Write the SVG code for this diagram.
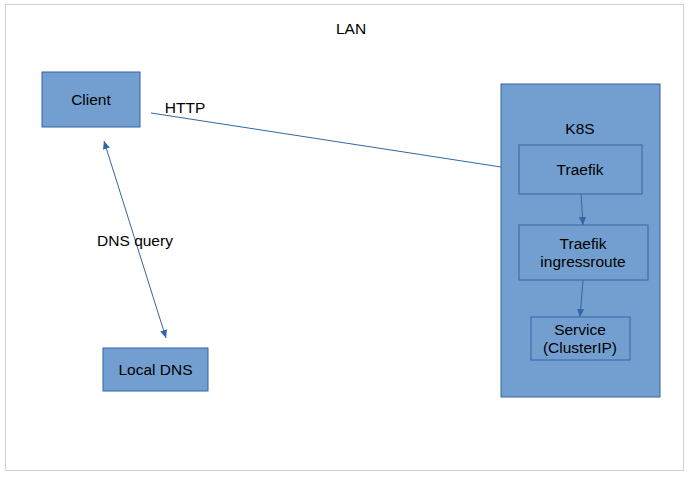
<svg xmlns="http://www.w3.org/2000/svg" width="690" height="477" viewBox="0 0 690 477">
<defs>
<style>
.n{fill:#729fcf;stroke:#3465a4;stroke-width:1}
.i{fill:none;stroke:#3465a4;stroke-width:1}
.t{font-family:"Liberation Sans",Arial,sans-serif;font-size:15.5px;fill:#000;text-anchor:middle}
.c{fill:none;stroke:#3465a4;stroke-width:1}
</style>
<marker id="a" viewBox="0 0 10 10" refX="10" refY="5" markerWidth="8" markerHeight="8" orient="auto-start-reverse" markerUnits="userSpaceOnUse"><path d="M0,0.5L10,5L0,9.5z" fill="#3465a4"/></marker>
</defs>
<rect x="0" y="0" width="690" height="477" fill="#fff"/>
<g id="lan"><rect x="5.5" y="4.5" width="678" height="466" fill="#fff" stroke="#d0d0d0"/><text class="t" x="351" y="34">LAN</text></g>
<g id="client"><rect class="n" x="42" y="72" width="98" height="55"/><text class="t" x="91" y="105">Client</text></g>
<g id="localdns"><rect class="n" x="103" y="348" width="105" height="43"/><text class="t" x="155.5" y="375">Local DNS</text></g>
<g id="k8s"><rect class="n" x="501" y="84" width="159" height="313"/><text class="t" x="580" y="134">K8S</text></g>
<g id="traefik"><rect class="i" x="519" y="145" width="123" height="49"/><text class="t" x="580" y="175">Traefik</text></g>
<g id="ingressroute"><rect class="i" x="519" y="225" width="129" height="55"/><text class="t" x="583" y="249">Traefik</text><text class="t" x="583" y="267">ingressroute</text></g>
<g id="service"><rect class="i" x="531" y="317" width="99" height="43"/><text class="t" x="580" y="335">Service</text><text class="t" x="580" y="353">(ClusterIP)</text></g>
<g id="connectors">
<line class="c" x1="151" y1="113" x2="501" y2="167"/>
<text class="t" x="185" y="113">HTTP</text>
<line class="c" x1="104" y1="141" x2="166" y2="338" marker-start="url(#a)" marker-end="url(#a)"/>
<text class="t" x="135" y="246">DNS query</text>
<line class="c" x1="581" y1="194" x2="583" y2="225" marker-end="url(#a)"/>
<line class="c" x1="583" y1="280" x2="580" y2="317" marker-end="url(#a)"/>
</g>
</svg>
